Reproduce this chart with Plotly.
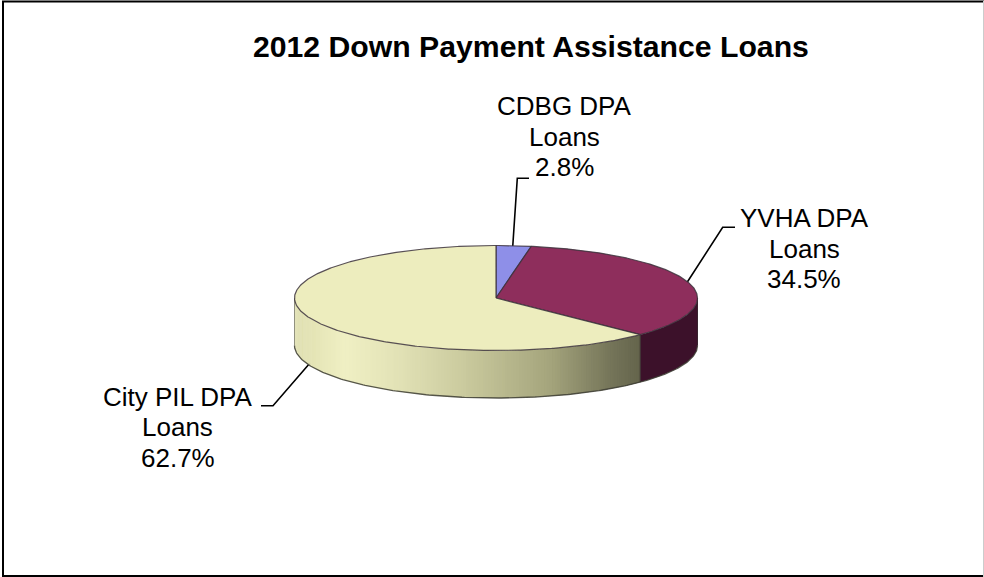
import numpy as np
import plotly.graph_objects as go

# Loan shares in percent, clockwise from twelve o'clock
categories = [["CDBG DPA", "Loans"], ["YVHA DPA", "Loans"], ["City PIL DPA", "Loans"]]
shares = [2.8, 34.5, 62.7]
top_colors = ["#8E8FE8", "#8E2E5C", "#EDEDBE"]

title_text = "2012 Down Payment Assistance Loans"

WIDTH, HEIGHT = 984, 577
CX, CY, RX, RY, DEPTH = 496.0, 298.0, 201.5, 52.5, 47.5
FONT = "Liberation Sans, Arial, sans-serif"

# Horizontal shading of the rim: (x position, rgb)
rim_yellow = [(294, (222, 222, 174)), (345, (240, 240, 196)), (400, (226, 226, 182)),
              (470, (200, 200, 156)), (550, (165, 165, 125)), (610, (118, 118, 90)),
              (641, (100, 100, 76))]
rim_maroon = "rgb(60,17,42)"


def ellipse(deg, drop=0.0):
    a = np.radians(deg)
    return CX + RX * np.sin(a), CY - RY * np.cos(a) + drop


def rim_color(x):
    xs = [s[0] for s in rim_yellow]
    rgb = [int(np.interp(x, xs, [s[1][i] for s in rim_yellow])) for i in range(3)]
    return f"rgb({rgb[0]},{rgb[1]},{rgb[2]})"


fig = go.Figure()


def polygon(x, y, fill, line=None, width=0.0):
    fig.add_trace(go.Scatter(
        x=x, y=y, mode="lines", fill="toself", fillcolor=fill,
        line=dict(color=line or fill, width=width),
        hoverinfo="skip", showlegend=False))


def polyline(x, y, color="#000000", width=1.6):
    fig.add_trace(go.Scatter(
        x=x, y=y, mode="lines", line=dict(color=color, width=width),
        hoverinfo="skip", showlegend=False))


# Leader lines sit behind the pie
polyline([512.7, 517.3, 529], [247, 178.3, 178.3])
polyline([686.7, 722.7, 735], [283, 227.3, 227.3])
polyline([310, 273, 261], [363, 405.7, 405.7])

edges = np.concatenate([[0.0], np.cumsum(shares)]) * 3.6

# Rim: only the front half (90 to 270 degrees) faces the viewer.
# The maroon slice is one flat band, the yellow one is shaded in thin strips.
arc = np.linspace(90, edges[2], 60)
xt, yt = ellipse(arc)
xb, yb = ellipse(arc[::-1], DEPTH)
polygon(np.r_[xt, xb, xt[0]], np.r_[yt, yb, yt[0]], rim_maroon)

steps = np.linspace(edges[2], 270, 171)
for a0, a1 in zip(steps[:-1], steps[1:]):
    x0, y0 = ellipse(a0)
    x1, y1 = ellipse(a1 + 0.4)
    xb0, yb0 = ellipse(a0, DEPTH)
    xb1, yb1 = ellipse(a1 + 0.4, DEPTH)
    xm, _ = ellipse((a0 + a1) / 2)
    polygon([x0, x1, xb1, xb0, x0], [y0, y1, yb1, yb0, y0], rim_color(xm))

# Rim outline along the bottom and both vertical ends
arc = np.linspace(90, 270, 241)
xb, yb = ellipse(arc, DEPTH)
polyline(xb, yb, "rgba(60,60,50,0.85)", 1.3)
xl, yl = ellipse(270.0)
polyline([xl, xl], [yl, yl + DEPTH], "rgba(70,70,60,0.55)", 1)
xr, yr = ellipse(90.0)
polyline([xr, xr], [yr, yr + DEPTH], "rgba(30,10,20,0.8)", 1)
xs, ys = ellipse(edges[2])
polyline([xs, xs], [ys, ys + DEPTH], "rgba(40,30,30,0.8)", 1)

# Top face wedges
for i, color in enumerate(top_colors):
    arc = np.linspace(edges[i], edges[i + 1], max(int(edges[i + 1] - edges[i]) * 2, 12))
    xt, yt = ellipse(arc)
    polygon(np.r_[CX, xt, CX], np.r_[CY, yt, CY], color, "rgba(60,50,60,0.85)", 1.2)


def text_line(x, y, text, size):
    return dict(x=x, y=y, xref="x", yref="y", xanchor="center", yanchor="middle",
                text=text, showarrow=False, align="center",
                font=dict(family=FONT, size=size, color="#000000"))


# Category labels: each line is placed on its own for the tighter leading
label_x = [564, 804, 177.5]
label_y = [(106, 137, 167), (218, 249, 279), (397, 427, 458)]
annotations = []
for cat, val, lx, ly in zip(categories, shares, label_x, label_y):
    for line, y in zip(cat + [f"{val:.1f}%"], ly):
        annotations.append(text_line(lx, y, line, 26))
annotations.append(text_line(531, 46, f"<b>{title_text}</b>", 30.2))

fig.update_layout(
    width=WIDTH, height=HEIGHT,
    margin=dict(l=0, r=0, t=0, b=0),
    paper_bgcolor="#FFFFFF", plot_bgcolor="#FFFFFF",
    xaxis=dict(range=[0, WIDTH], visible=False, fixedrange=True),
    yaxis=dict(range=[HEIGHT, 0], visible=False, fixedrange=True),
    annotations=annotations,
    shapes=[
        dict(type="line", xref="x", yref="y", x0=3, x1=3, y0=1, y1=577,
             line=dict(color="#000000", width=2)),
        dict(type="line", xref="x", yref="y", x0=2, x1=984, y0=1.5, y1=1.5,
             line=dict(color="#000000", width=2)),
        dict(type="line", xref="x", yref="y", x0=2, x1=984, y0=576, y1=576,
             line=dict(color="#000000", width=2)),
        dict(type="line", xref="x", yref="y", x0=983.5, x1=983.5, y0=1, y1=577,
             line=dict(color="#CCCCCC", width=1)),
    ],
)

fig.write_html("out.html", config=dict(displayModeBar=False))
